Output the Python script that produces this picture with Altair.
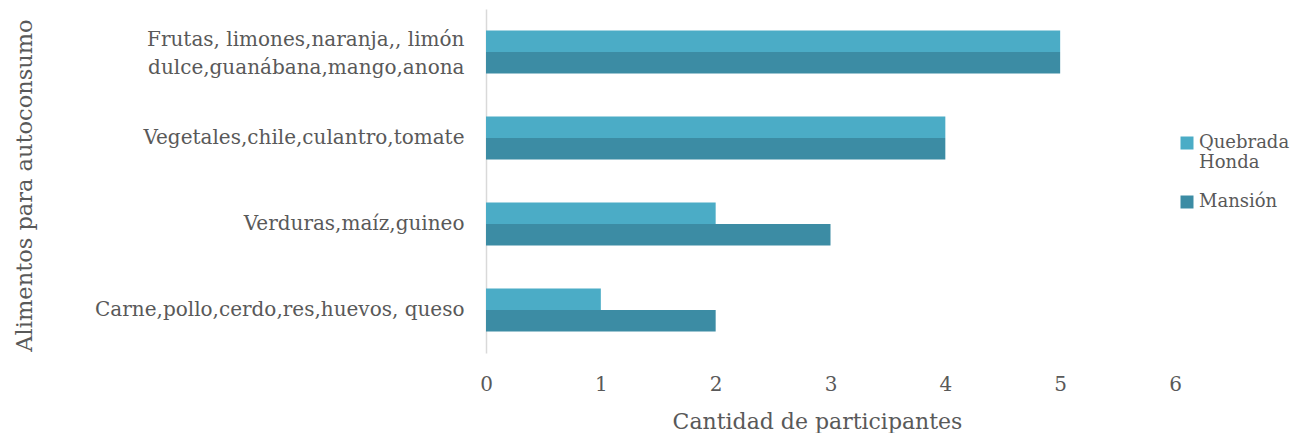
import altair as alt
import pandas as pd

categories = [
    "Frutas, limones,naranja,, limón dulce,guanábana,mango,anona",
    "Vegetales,chile,culantro,tomate",
    "Verduras,maíz,guineo",
    "Carne,pollo,cerdo,res,huevos, queso",
]
series = ["Quebrada Honda", "Mansión"]
quebrada_honda = [5, 4, 2, 1]
mansion = [5, 4, 3, 2]
colors = ["#4BACC6", "#3C8CA4"]
x_ticks = [0, 1, 2, 3, 4, 5, 6]

rows = []
for c, q, m in zip(categories, quebrada_honda, mansion):
    rows.append({"cat": c, "serie": series[0], "valor": q})
    rows.append({"cat": c, "serie": series[1], "valor": m})
df = pd.DataFrame(rows)

FONT = "DejaVu Serif"
GRAY = "#595959"

first_test = "datum.value == '" + categories[0] + "'"
y_label_expr = (
    first_test + " ? "
    "['Frutas, limones,naranja,, limón', 'dulce,guanábana,mango,anona'] : datum.label"
)
legend_label_expr = (
    "datum.value == 'Quebrada Honda' ? ['Quebrada', 'Honda'] : datum.label"
)

chart = (
    alt.Chart(df)
    .mark_bar()
    .encode(
        y=alt.Y(
            "cat:N",
            sort=categories,
            scale=alt.Scale(paddingInner=0.5, paddingOuter=0.25),
            axis=alt.Axis(
                title="Alimentos para autoconsumo",
                labelExpr=y_label_expr,
                labelLineHeight=28,
                labelFontSize=20,
                labelFont=FONT,
                labelColor=GRAY,
                labelPadding=22,
                labelLimit=500,
                labelOffset={"condition": {"test": first_test, "value": -12}, "value": 0},
                ticks=False,
                domain=True,
                domainColor="#D9D9D9",
                domainWidth=1.5,
                titleFont=FONT,
                titleFontSize=22.5,
                titleFontWeight="normal",
                titleColor=GRAY,
                titleAngle=-90,
                titleX=-462,
                titleY=176,
                titleAlign="center",
                titleBaseline="middle",
            ),
        ),
        yOffset=alt.YOffset("serie:N", sort=series),
        x=alt.X(
            "valor:Q",
            scale=alt.Scale(domain=[0, 6]),
            axis=alt.Axis(
                title="Cantidad de participantes",
                values=x_ticks,
                format="d",
                grid=False,
                domain=False,
                ticks=False,
                labelFlush=False,
                labelFont=FONT,
                labelFontSize=20,
                labelColor=GRAY,
                labelPadding=21,
                titleFont=FONT,
                titleFontSize=22,
                titleFontWeight="normal",
                titleColor=GRAY,
                titleX=331,
                titleY=75,
                titleAlign="center",
                titleBaseline="alphabetic",
            ),
        ),
        color=alt.Color(
            "serie:N",
            sort=series,
            scale=alt.Scale(domain=series, range=colors),
            legend=alt.Legend(
                title=None,
                orient="none",
                legendX=692,
                legendY=125,
                symbolType="square",
                symbolSize=169,
                symbolStrokeWidth=0,
                labelExpr=legend_label_expr,
                labelFont=FONT,
                labelFontSize=18,
                labelColor=GRAY,
                labelOffset=3,
                labelLimit=200,
                rowPadding=21,
            ),
        ),
    )
    .properties(
        width=689,
        height=344,
        autosize=alt.AutoSizeParams(type="none"),
        padding={"left": 478, "top": 1, "right": 117, "bottom": 80},
    )
    .configure_view(stroke=None)
)

chart.save("out.html", embed_options={"renderer": "svg", "actions": False})
